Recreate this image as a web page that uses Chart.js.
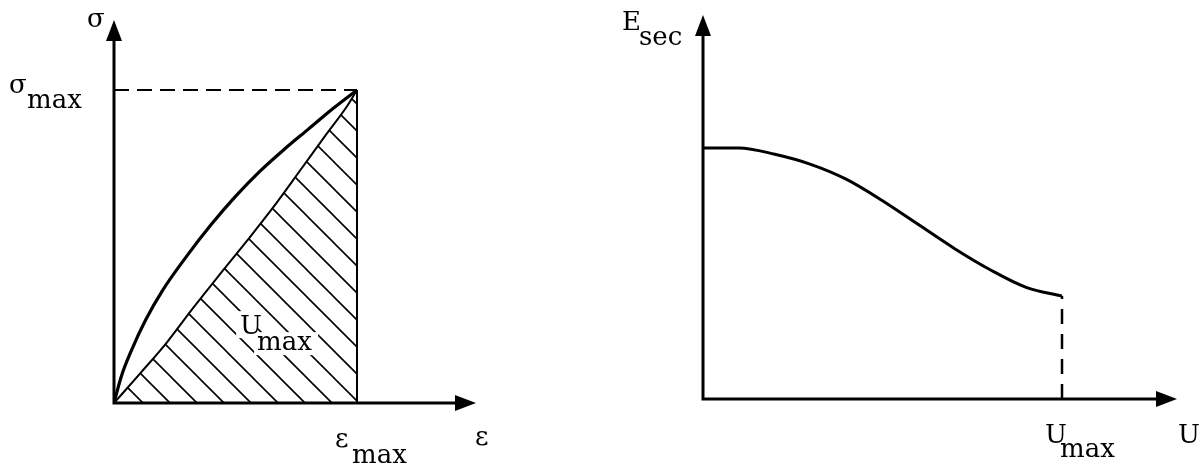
<!DOCTYPE html>
<html>
<head>
<meta charset="utf-8">
<script src="https://cdn.jsdelivr.net/npm/chart.js@4.4.1/dist/chart.umd.min.js"></script>
<style>
  html, body { margin: 0; padding: 0; background: #fff; }
  #wrap { position: relative; width: 1201px; height: 472px; }
  canvas { position: absolute; top: 0; }
  #stressStrain { left: 0; }
  #secantPlot { left: 600px; }
</style>
</head>
<body>
<div id="wrap">
  <canvas id="stressStrain" width="600" height="472"></canvas>
  <canvas id="secantPlot" width="601" height="472"></canvas>
</div>
<script>
// Loading branch of the stress-strain curve (strain and stress scaled by their maxima)
const loadStrain = [0, 0.03, 0.07, 0.13, 0.2, 0.3, 0.4, 0.5, 0.6, 0.7, 0.8, 0.9, 1];
const loadStress = [0, 0.085, 0.165, 0.265, 0.36, 0.47, 0.57, 0.66, 0.74, 0.81, 0.875, 0.94, 1];

// Lower branch bounding the strain energy U_max
const lowerStrain = [0, 0.107, 0.218, 0.325, 0.424, 0.547, 0.654, 0.765, 0.877, 0.959, 1];
const lowerStress = [0, 0.094, 0.194, 0.303, 0.400, 0.518, 0.624, 0.742, 0.862, 0.948, 1];

// Secant modulus against strain energy (both scaled)
const energy = [0, 0.10, 0.2, 0.3, 0.4, 0.5, 0.6, 0.7, 0.8, 0.9, 1];
const secantModulus = [1.0, 1.0, 0.975, 0.935, 0.875, 0.79, 0.695, 0.60, 0.515, 0.445, 0.41];

// Reference levels marked on the axes
const strainMax = 1;
const stressMax = 1;
const energyMax = 1;

// Axis texts
const leftTexts = { yAxis: 'σ', yMark: ['σ', 'max'], xMark: ['ε', 'max'], xAxis: 'ε', area: ['U', 'max'] };
const rightTexts = { yAxis: ['E', 'sec'], xMark: ['U', 'max'], xAxis: 'U' };

const FONT = '26px "DejaVu Serif", "Liberation Serif", serif';
const INK = '#000';

function pts(xs, ys) { return xs.map((x, i) => ({ x, y: ys[i] })); }

function hatchPattern(ctx, p, shift) {
  const c = document.createElement('canvas');
  c.width = p; c.height = p;
  const g = c.getContext('2d');
  g.strokeStyle = INK;
  g.lineWidth = 1.6;
  g.beginPath();
  g.moveTo(-2, -2); g.lineTo(p + 2, p + 2);
  g.moveTo(-2, p - 2); g.lineTo(2, p + 2);
  g.moveTo(p - 2, -2); g.lineTo(p + 2, 2);
  g.stroke();
  const pat = ctx.createPattern(c, 'repeat');
  pat.setTransform(new DOMMatrix().translate(shift, 0));
  return pat;
}

function drawArrowAxes(chart) {
  const { ctx, chartArea: a, scales: { x, y } } = chart;
  const x0 = x.getPixelForValue(0);
  const y0 = y.getPixelForValue(0);
  ctx.save();
  ctx.strokeStyle = INK; ctx.fillStyle = INK; ctx.lineWidth = 3; ctx.lineCap = 'butt';
  ctx.beginPath();
  ctx.moveTo(x0, y0 + 1.5); ctx.lineTo(x0, a.top + 18);
  ctx.moveTo(x0 - 1.5, y0); ctx.lineTo(a.right - 18, y0);
  ctx.stroke();
  ctx.beginPath();
  ctx.moveTo(x0, a.top); ctx.lineTo(x0 - 8, a.top + 21); ctx.lineTo(x0 + 8, a.top + 21); ctx.closePath();
  ctx.moveTo(a.right, y0); ctx.lineTo(a.right - 21, y0 - 8); ctx.lineTo(a.right - 21, y0 + 8); ctx.closePath();
  ctx.fill();
  ctx.restore();
}

function subText(ctx, x, y, pair, dx, dy) {
  ctx.fillText(pair[0], x, y);
  ctx.fillText(pair[1], x + dx, y + dy);
}

const leftDecor = {
  id: 'leftDecor',
  afterDatasetsDraw(chart) {
    const { ctx, chartArea: a, scales: { x, y } } = chart;
    const x0 = x.getPixelForValue(0), y0 = y.getPixelForValue(0);
    const xm = x.getPixelForValue(strainMax), ym = y.getPixelForValue(stressMax);
    const ux = x.getPixelForValue(0.519), uy = y.getPixelForValue(0.22);
    ctx.save();
    // clear the hatching round the area label
    ctx.fillStyle = '#fff';
    ctx.fillRect(ux - 4, uy - 23, 22, 27);
    ctx.fillRect(ux + 14, uy - 2, 64, 23);
    drawArrowAxes(chart);
    ctx.fillStyle = INK;
    ctx.font = FONT;
    ctx.textAlign = 'left';
    ctx.textBaseline = 'alphabetic';
    ctx.fillText(leftTexts.yAxis, x0 - 27, a.top + 7);
    subText(ctx, x0 - 105, ym + 3, leftTexts.yMark, 18, 15);
    subText(ctx, xm - 22, y0 + 44, leftTexts.xMark, 17, 16);
    ctx.fillText(leftTexts.xAxis, a.right - 1, y0 + 42);
    subText(ctx, ux, uy, leftTexts.area, 17, 16);
    ctx.restore();
  }
};

const rightDecor = {
  id: 'rightDecor',
  afterDatasetsDraw(chart) {
    const { ctx, chartArea: a, scales: { x, y } } = chart;
    const x0 = x.getPixelForValue(0), y0 = y.getPixelForValue(0);
    const xm = x.getPixelForValue(energyMax);
    drawArrowAxes(chart);
    ctx.save();
    ctx.fillStyle = INK;
    ctx.font = FONT;
    ctx.textAlign = 'left';
    ctx.textBaseline = 'alphabetic';
    subText(ctx, x0 - 81, a.top + 15, rightTexts.yAxis, 17, 15);
    subText(ctx, xm - 17, y0 + 44, rightTexts.xMark, 15, 14);
    ctx.fillText(rightTexts.xAxis, a.right + 1, y0 + 44);
    ctx.restore();
  }
};

const common = {
  responsive: false,
  animation: false,
  devicePixelRatio: 1,
  events: [],
  plugins: { legend: { display: false }, tooltip: { enabled: false } },
  elements: { point: { radius: 0 } }
};

// Left: stress-strain diagram
const c1 = document.getElementById('stressStrain');
const ctx1 = c1.getContext('2d');
new Chart(ctx1, {
  type: 'scatter',
  data: {
    datasets: [
      {
        data: pts(lowerStrain, lowerStress), showLine: true,
        borderColor: INK, borderWidth: 2, cubicInterpolationMode: 'monotone',
        fill: 'origin', backgroundColor: hatchPattern(ctx1, 27, 10)
      },
      {
        data: pts(loadStrain, loadStress), showLine: true,
        borderColor: INK, borderWidth: 3.2, cubicInterpolationMode: 'monotone', fill: false
      },
      {
        data: [{ x: 0, y: stressMax }, { x: strainMax, y: stressMax }], showLine: true,
        borderColor: INK, borderWidth: 2, borderDash: [15, 8], fill: false
      },
      {
        data: [{ x: strainMax, y: 0 }, { x: strainMax, y: stressMax }], showLine: true,
        borderColor: INK, borderWidth: 2, fill: false
      }
    ]
  },
  options: Object.assign({}, common, {
    layout: { padding: { left: 114, right: 124, top: 20, bottom: 69 } },
    scales: {
      x: { type: 'linear', display: false, min: 0, max: 1.4897 },
      y: { type: 'linear', display: false, min: 0, max: 1.2236 }
    }
  }),
  plugins: [leftDecor]
});

// Right: secant modulus against strain energy
const c2 = document.getElementById('secantPlot');
new Chart(c2.getContext('2d'), {
  type: 'scatter',
  data: {
    datasets: [
      {
        data: pts(energy, secantModulus), showLine: true,
        borderColor: INK, borderWidth: 3, cubicInterpolationMode: 'monotone', fill: false
      },
      {
        data: [{ x: energyMax, y: 0 }, { x: energyMax, y: secantModulus[secantModulus.length - 1] }], showLine: true,
        borderColor: INK, borderWidth: 2.5, borderDash: [15, 10], fill: false
      }
    ]
  },
  options: Object.assign({}, common, {
    layout: { padding: { left: 103, right: 24, top: 15, bottom: 73 } },
    scales: {
      x: { type: 'linear', display: false, min: 0, max: 1.3203 },
      y: { type: 'linear', display: false, min: 0, max: 1.5299 }
    }
  }),
  plugins: [rightDecor]
});
</script>
</body>
</html>
